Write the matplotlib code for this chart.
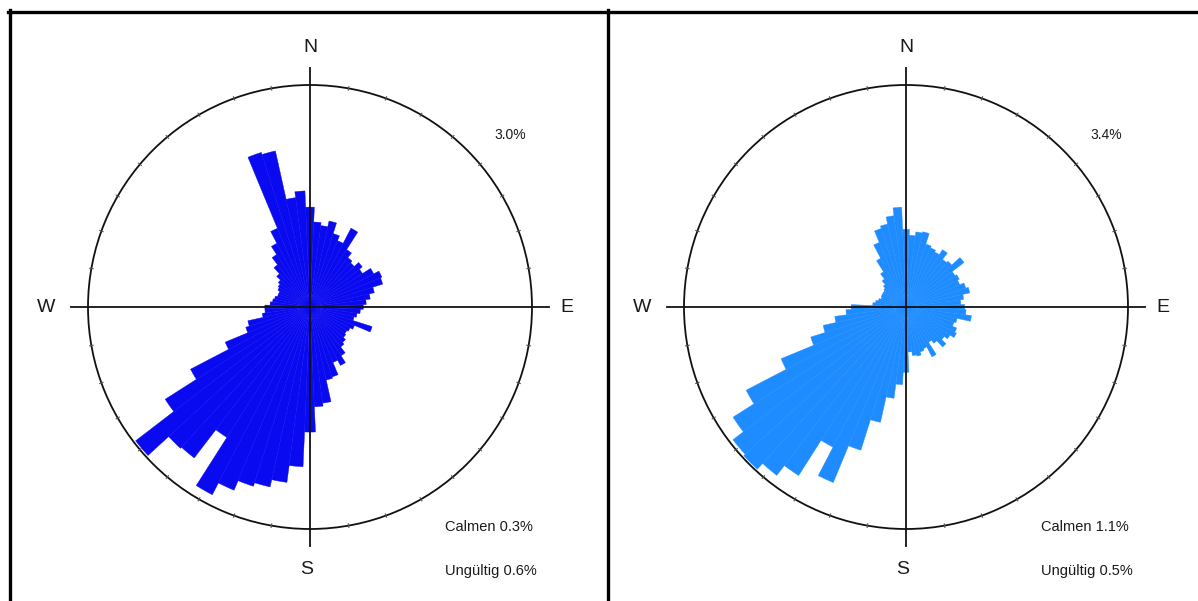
import numpy as np
import matplotlib
matplotlib.use("Agg")
import matplotlib.pyplot as plt
from matplotlib.lines import Line2D

plt.rcParams['font.family'] = ['Liberation Sans', 'DejaVu Sans']

# ---- data (5-degree direction sectors, bearing clockwise from north) ----
directions = list(range(0, 360, 5))

left_freq = [1.35, 1.15, 1.11, 1.19, 1.04, 0.97, 1.20, 0.92, 0.84, 0.81,
             0.89, 0.84, 0.97, 1.05, 1.03, 0.89, 0.82, 0.76, 0.72, 0.68,
             0.64, 0.61, 0.88, 0.65, 0.61, 0.59, 0.61, 0.65, 0.68, 0.78,
             0.89, 0.81, 0.99, 1.01, 1.31, 1.35, 1.69, 2.16, 2.39, 2.49,
             2.54, 2.68, 2.86, 2.09, 2.57, 2.59, 2.97, 2.32, 1.82, 1.24,
             0.91, 0.86, 0.65, 0.61, 0.61, 0.54, 0.51, 0.49, 0.46, 0.46,
             0.49, 0.51, 0.54, 0.61, 0.72, 0.84, 0.97, 1.15, 2.19, 2.16,
             1.49, 1.57]

right_freq = [1.19, 1.10, 1.16, 1.18, 1.01, 0.98, 0.95, 1.04, 0.92, 0.95,
              1.12, 0.89, 0.92, 0.89, 0.96, 1.00, 0.89, 0.84, 0.90, 0.92,
              1.01, 0.80, 0.77, 0.84, 0.87, 0.80, 0.74, 0.83, 0.70, 0.64,
              0.86, 0.69, 0.72, 0.77, 0.75, 0.69, 1.00, 1.19, 1.41, 1.81,
              2.30, 2.91, 2.42, 3.06, 3.25, 3.37, 3.34, 3.14, 2.76, 2.07,
              1.53, 1.30, 1.10, 0.92, 0.84, 0.51, 0.47, 0.43, 0.40, 0.41,
              0.41, 0.41, 0.43, 0.47, 0.54, 0.64, 0.84, 1.07, 1.26, 1.30,
              1.41, 1.53]

left_scale = 3.0
right_scale = 3.4
left_calm, left_invalid = 0.3, 0.6
right_calm, right_invalid = 1.1, 0.5

left_color = '#0A0AF0'
right_color = '#1E8CFF'

W, H = 1198, 601
fig = plt.figure(figsize=(W / 100, H / 100), dpi=100)
fig.patch.set_facecolor('white')

def fx(px):
    return px / W

def fy(py):
    return 1 - py / H

# panel frame
frame_kw = dict(color='black', lw=2.4, transform=fig.transFigure)
fig.add_artist(Line2D([fx(8), 1.0], [fy(11.5), fy(11.5)], **frame_kw))
fig.add_artist(Line2D([fx(9.5), fx(9.5)], [fy(10), 0], **frame_kw))
fig.add_artist(Line2D([fx(607.5), fx(607.5)], [fy(10), 0], **frame_kw))

R = 222
txt_color = '#1a1a1a'

def rose(cx, cy, freq, scale, color, calm, invalid):
    ax = fig.add_axes([fx(cx - R), fy(cy + R), 2 * R / W, 2 * R / H],
                      projection='polar')
    ax.set_theta_zero_location('N')
    ax.set_theta_direction(-1)
    theta = np.radians(directions)
    ax.bar(theta, freq, width=np.radians(5), bottom=0, color=color,
           edgecolor=color, linewidth=0.3, align='center', zorder=2)
    ax.set_ylim(0, scale)
    ax.grid(False)
    ax.set_yticks([])
    ax.set_xticks([])
    ax.spines['polar'].set_linewidth(1.3)
    ax.spines['polar'].set_color('#111111')
    ax.set_facecolor('none')
    # small faint tick marks on the circle
    for t in range(0, 360, 10):
        if t % 90 == 0:
            continue
        ax.plot([np.radians(t), np.radians(t)], [scale * 0.992, scale * 1.008],
                color='#555555', lw=0.8, clip_on=False, zorder=3)
    ext = scale * 1.075
    for t in [0, 90, 180, 270]:
        ax.plot([np.radians(t), np.radians(t)], [0, ext], color='#111111',
                lw=1.3, clip_on=False, zorder=3)
    # labels
    fig.text(fx(cx), fy(cy - 260), 'N', ha='center', va='center',
             fontsize=14, color=txt_color)
    fig.text(fx(cx - 3), fy(cy + 263), 'S', ha='center', va='center',
             fontsize=14, color=txt_color)
    fig.text(fx(cx - 264), fy(cy), 'W', ha='center', va='center',
             fontsize=14, color=txt_color)
    fig.text(fx(cx + 257), fy(cy), 'E', ha='center', va='center',
             fontsize=14, color=txt_color)
    fig.text(fx(cx + 200), fy(cy - 172), f'{scale:.1f}%', ha='center',
             va='center', fontsize=10, color=txt_color)
    fig.text(fx(cx + 135), fy(527), f'Calmen {calm:.1f}%', ha='left',
             va='center', fontsize=10.5, color=txt_color)
    fig.text(fx(cx + 135), fy(571), f'Ungültig {invalid:.1f}%', ha='left',
             va='center', fontsize=10.5, color=txt_color)

rose(310, 307, left_freq, left_scale, left_color, left_calm, left_invalid)
rose(906, 307, right_freq, right_scale, right_color, right_calm, right_invalid)

fig.savefig('out.png', dpi=100, facecolor='white')
